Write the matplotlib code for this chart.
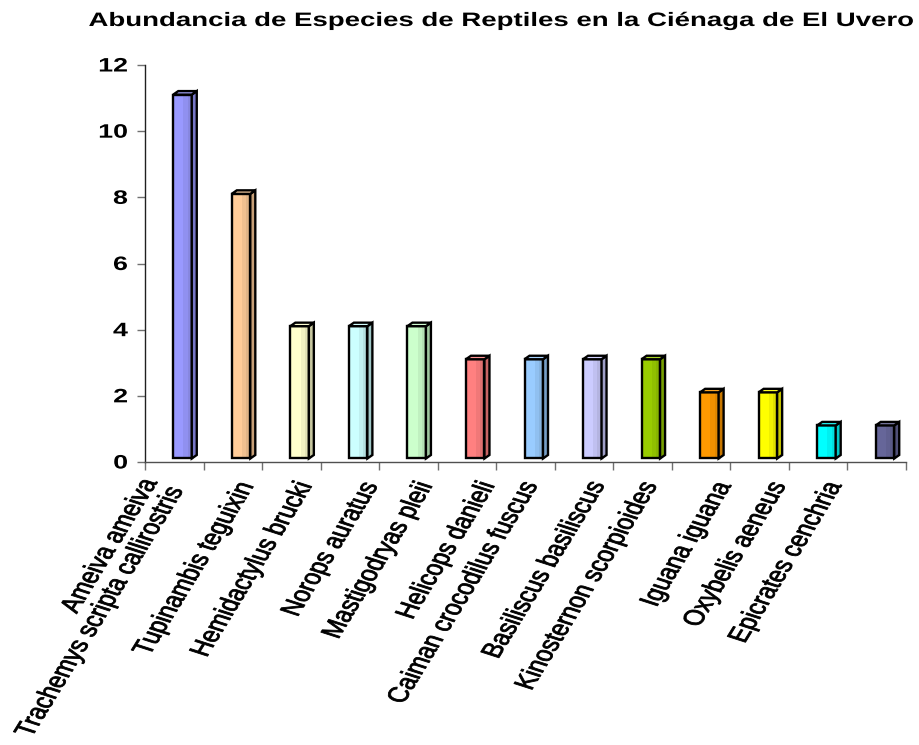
import numpy as np
import matplotlib
matplotlib.use("Agg")
import matplotlib.pyplot as plt
import matplotlib.colors as mcolors
from matplotlib.patches import Polygon, Rectangle
from matplotlib.patheffects import AbstractPathEffect
from matplotlib.transforms import Affine2D
from matplotlib.font_manager import FontProperties

# ---------------- data ----------------
title = "Abundancia de Especies de Reptiles en la Ciénaga de El Uvero"
species = [
    "Ameiva ameiva\nTrachemys scripta callirostris",
    "Tupinambis teguixin",
    "Hemidactylus brucki",
    "Norops auratus",
    "Mastigodryas pleii",
    "Helicops danieli",
    "Caiman crocodilus fuscus",
    "Basiliscus basiliscus",
    "Kinosternon scorpioides",
    "Iguana iguana",
    "Oxybelis aeneus",
    "Epicrates cenchria",
    "",
]
abundance = [11, 8, 4, 4, 4, 3, 3, 3, 3, 2, 2, 1, 1]
bar_colors = ["#9999FF", "#FFCC99", "#FFFFCC", "#CCFFFF", "#CCFFCC", "#FF8080",
              "#99CCFF", "#CCCCFF", "#99CC00", "#FF9900", "#FFFF00", "#00FFFF",
              "#666699"]
y_ticks = [0, 2, 4, 6, 8, 10, 12]
y_max = 12

# ---------------- helpers ----------------
class HStretch(AbstractPathEffect):
    """Stretch drawn text horizontally about a fixed display x (optionally emboldened)."""
    def __init__(self, k, x0, stroke=0.0):
        super().__init__()
        self.k = k
        self.x0 = x0
        self.stroke = stroke

    def draw_path(self, renderer, gc, tpath, affine, rgbFace=None):
        st = Affine2D().translate(-self.x0, 0).scale(self.k, 1).translate(self.x0, 0)
        aff = affine + st
        if self.stroke > 0:
            gc0 = renderer.new_gc()
            gc0.copy_properties(gc)
            gc0.set_linewidth(self.stroke)
            gc0.set_foreground(rgbFace if rgbFace is not None else "black")
            renderer.draw_path(gc0, tpath, aff, rgbFace)
            gc0.restore()
        else:
            renderer.draw_path(gc, tpath, aff, rgbFace)


def shade(c, f):
    return tuple(np.array(mcolors.to_rgb(c)) * f)


def lighten(c, f):
    rgb = np.array(mcolors.to_rgb(c))
    return tuple(rgb + (1 - rgb) * f)


# ---------------- figure ----------------
DPI = 100
W_PX, H_PX = 919, 745
fig = plt.figure(figsize=(W_PX / DPI, H_PX / DPI), dpi=DPI, facecolor="white")
left_px, right_px, top_px, bottom_px = 145, 906, 65, 462
ax = fig.add_axes([left_px / W_PX, 1 - bottom_px / H_PX,
                   (right_px - left_px) / W_PX, (bottom_px - top_px) / H_PX])
n = len(abundance)
ax.set_xlim(0, n)
ax.set_ylim(0, y_max)
ux = n / (right_px - left_px)       # data units per pixel (x)
uy = y_max / (bottom_px - top_px)   # data units per pixel (y)

# bars (3D prism look)
for i, (v, col) in enumerate(zip(abundance, bar_colors)):
    c = i + 0.5
    x0 = c - 1 * ux
    x1 = c + 17.5 * ux
    y0 = 3.5 * uy
    y1 = v + 3.5 * uy
    ddx = 5 * ux
    ddy = 3.5 * uy
    wdt = x1 - x0
    ax.add_patch(Rectangle((x0, y0), wdt, y1 - y0, facecolor=col,
                           edgecolor="none", zorder=3))
    ax.add_patch(Rectangle((x0 + 0.55 * wdt, y0), 0.45 * wdt, y1 - y0,
                           facecolor=shade(col, 0.94), edgecolor="none", zorder=3))
    ax.add_patch(Rectangle((x0 + 0.78 * wdt, y0), 0.22 * wdt, y1 - y0,
                           facecolor=shade(col, 0.88), edgecolor="none", zorder=3))
    ax.add_patch(Rectangle((x0, y0), wdt, y1 - y0, fill=False,
                           edgecolor="black", lw=1.7, zorder=4))
    ax.add_patch(Polygon([(x1, y0), (x1 + ddx, y0 + ddy), (x1 + ddx, y1 + ddy), (x1, y1)],
                         closed=True, facecolor=shade(col, 0.78),
                         edgecolor="black", lw=1.7, zorder=4))
    ax.add_patch(Polygon([(x0, y1), (x0 + ddx, y1 + ddy), (x1 + ddx, y1 + ddy), (x1, y1)],
                         closed=True, facecolor=lighten(col, 0.15),
                         edgecolor="black", lw=1.7, zorder=5))

# axes styling
for s in ["top", "right"]:
    ax.spines[s].set_visible(False)
ax.spines["left"].set_color("#202020")
ax.spines["bottom"].set_color("#505050")
ax.spines["left"].set_linewidth(1.0)
ax.spines["bottom"].set_linewidth(1.0)

tick_len_px = 8
ax.set_xticks(np.arange(n + 1))
ax.set_xticklabels([])
ax.tick_params(axis="x", length=tick_len_px * 72 / DPI, color="#707070",
               direction="out", width=1)
ypad_px = 9
ax.set_yticks(y_ticks)
ylabs = ax.set_yticklabels([str(t) for t in y_ticks], fontsize=14,
                           fontweight="bold", family="Liberation Sans")
ax.tick_params(axis="y", length=tick_len_px * 72 / DPI, color="#707070",
               direction="out", width=1, pad=ypad_px * 72 / DPI)
ylab_x = left_px - tick_len_px - ypad_px
for lab in ylabs:
    lab.set_path_effects([HStretch(1.38, ylab_x)])

# category labels (rotated, stretched)
k = 1.38
theta = 66
fp = FontProperties(family="Liberation Sans", size=15.2)
renderer = fig.canvas.get_renderer()
for i, lab in enumerate(species):
    if not lab:
        continue
    lines = lab.split("\n")
    w = max(renderer.get_text_width_height_descent(line, fp, ismath=False)[0]
            for line in lines)
    wh = w * np.cos(np.radians(theta)) * k
    extra = len(lines) - 1
    dx_px = 58 - 0.3 * wh + 2 * extra
    dy_px = -25 - 5 * extra
    ax_x = ax.transData.transform((i + 0.5, 0))[0] + dx_px
    t = ax.annotate(lab, xy=(i + 0.5, 0), xycoords="data",
                    xytext=(dx_px * 72 / DPI, dy_px * 72 / DPI),
                    textcoords="offset points", rotation=theta,
                    rotation_mode="anchor", ha="right", va="bottom",
                    multialignment="right", fontproperties=fp,
                    linespacing=1.1, annotation_clip=False)
    t.set_path_effects([HStretch(k, ax_x, stroke=0.6)])

# title
tx = 501.5
tt = fig.text(tx / W_PX, 1 - 26 / H_PX, title, ha="center", va="baseline",
              fontsize=14, fontweight="bold", family="Liberation Sans")
tt.set_path_effects([HStretch(1.42, tx)])

fig.savefig("out.png", dpi=DPI, facecolor="white")
